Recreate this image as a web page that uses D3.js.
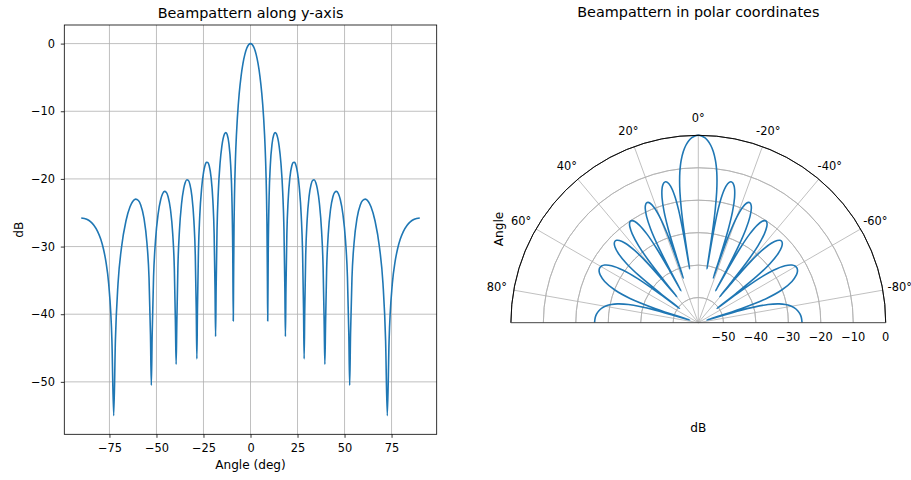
<!DOCTYPE html>
<html>
<head>
<meta charset="utf-8">
<script src="https://cdn.jsdelivr.net/npm/d3@7"></script>
<style>
  html, body { margin: 0; padding: 0; background: #fff; }
  svg { display: block; }
  text { font-family: "DejaVu Sans", sans-serif; fill: #000; }
</style>
</head>
<body>
<svg id="chart" width="911" height="480"></svg>
<script>
// ---------- data ----------
const angleDeg = [
  -90, -87.075, -85.077, -83.279, -81.246, -79.602, -78.182, -76.913, -75.389, -73.679,
  -72.733,
  -71.834, -70.424, -68.600, -66.226, -64.056, -62.633, -61.087, -59.612, -58.373, -56.674, -55.050, -53.950, -53.183,
  -52.729,
  -52.279, -51.540, -50.525, -49.112, -47.737, -46.797, -45.741, -44.706, -43.814, -42.564, -41.337, -40.493, -39.896,
  -39.540,
  -39.186, -38.600, -37.788, -36.643, -35.515, -34.735, -33.851, -32.978, -32.220, -31.148, -30.089, -29.354, -28.832,
  -28.520,
  -28.209, -27.693, -26.974, -25.956, -24.946, -24.244, -23.446, -22.653, -21.963, -20.984, -20.010, -19.332, -18.850,
  -18.561,
  -18.272, -17.793, -17.124, -16.172, -15.225, -14.564, -13.812, -13.062, -12.407, -11.475, -10.546, -9.898, -9.435,
  -9.158,
  -9.0, -8.75, -8.5, -8, -7.5, -7, -6.5, -6, -5, -4, -3, -2, -1,
  0,
  1, 2, 3, 4, 5, 6, 6.5, 7, 7.5, 8, 8.5, 8.75, 9.0,
  9.158,
  9.435, 9.898, 10.546, 11.475, 12.407, 13.062, 13.812, 14.564, 15.225, 16.172, 17.124, 17.793, 18.272,
  18.561,
  18.850, 19.332, 20.010, 20.984, 21.963, 22.653, 23.446, 24.244, 24.946, 25.956, 26.974, 27.693, 28.209,
  28.520,
  28.832, 29.354, 30.089, 31.148, 32.220, 32.978, 33.851, 34.735, 35.515, 36.643, 37.788, 38.600, 39.186,
  39.540,
  39.896, 40.493, 41.337, 42.564, 43.814, 44.706, 45.741, 46.797, 47.737, 49.112, 50.525, 51.540, 52.279,
  52.729,
  53.183, 53.950, 55.050, 56.674, 58.373, 59.612, 61.087, 62.633, 64.056, 66.226, 68.600, 70.424, 71.834,
  72.733,
  73.679, 75.389, 76.913, 78.182, 79.602, 81.246, 83.279, 85.077, 87.075, 90
];
const beamDb = [
  -25.773, -25.954, -26.312, -26.846, -27.787, -28.935, -30.356, -32.157, -35.537, -43.943,
  -55.0,
  -43.901, -35.424, -30.144, -26.216, -24.125, -23.340, -22.991, -23.194, -23.851, -25.760, -29.504, -34.656, -43.040,
  -50.5,
  -42.972, -34.473, -29.162, -25.189, -23.052, -22.233, -21.846, -22.009, -22.631, -24.488, -28.179, -33.293, -41.650,
  -47.4,
  -41.547, -33.020, -27.667, -23.634, -21.434, -20.570, -20.129, -20.237, -20.809, -22.592, -26.206, -31.264, -39.580,
  -46.6,
  -39.427, -30.856, -25.440, -21.313, -19.013, -18.077, -17.550, -17.567, -18.056, -19.712, -23.191, -28.148, -36.388,
  -43.3,
  -36.141, -27.487, -21.951, -17.642, -15.142, -14.053, -13.339, -13.152, -13.448, -14.804, -17.940, -22.630, -30.666,
  -41.0,
  -35.136, -26.680, -22.320, -17.041, -13.608, -11.053, -9.029, -7.366, -4.793, -2.932, -1.598, -0.696, -0.172,
  0,
  -0.172, -0.696, -1.598, -2.932, -4.793, -7.366, -9.029, -11.053, -13.608, -17.041, -22.320, -26.680, -35.136,
  -41.0,
  -30.666, -22.630, -17.940, -14.804, -13.448, -13.152, -13.339, -14.053, -15.142, -17.642, -21.951, -27.487, -36.141,
  -43.3,
  -36.388, -28.148, -23.191, -19.712, -18.056, -17.567, -17.550, -18.077, -19.013, -21.313, -25.440, -30.856, -39.427,
  -46.6,
  -39.580, -31.264, -26.206, -22.592, -20.809, -20.237, -20.129, -20.570, -21.434, -23.634, -27.667, -33.020, -41.547,
  -47.4,
  -41.650, -33.293, -28.179, -24.488, -22.631, -22.009, -21.846, -22.233, -23.052, -25.189, -29.162, -34.473, -42.972,
  -50.5,
  -43.040, -34.656, -29.504, -25.760, -23.851, -23.194, -22.991, -23.340, -24.125, -26.216, -30.144, -35.424, -43.901,
  -55.0,
  -43.943, -35.537, -32.157, -30.356, -28.935, -27.787, -26.846, -26.312, -25.954, -25.773
];
const xTicks = [-75, -50, -25, 0, 25, 50, 75];
const yTicks = [-50, -40, -30, -20, -10, 0];
const thetaTicks = [-80, -60, -40, -20, 0, 20, 40, 60, 80];
const rTicks = [-50, -40, -30, -20, -10, 0];

const xDomain = [-99, 99];
const yDomain = [-57.75, 2.75];
const rDomain = [-57.75, 0];

// ---------- drawing ----------
const svg = d3.select("#chart");
const LINE = "#1f77b4", GRID = "#b0b0b0";
const TICK_FS = 11.4, LABEL_FS = 12.1, TITLE_FS = 14.4;
const pts = angleDeg.map((a, i) => ({a, v: beamDb[i]}));

// ===== Left cartesian plot =====
const L = {x0: 64.3, x1: 436.7, y0: 25, y1: 434.3};
const x = d3.scaleLinear().domain(xDomain).range([L.x0, L.x1]);
const y = d3.scaleLinear().domain(yDomain).range([L.y1, L.y0]);
const gL = svg.append("g");

// grid
gL.append("g").selectAll("line").data(xTicks).join("line")
  .attr("x1", d => x(d)).attr("x2", d => x(d)).attr("y1", L.y0).attr("y2", L.y1)
  .attr("stroke", GRID).attr("stroke-width", 0.8);
gL.append("g").selectAll("line").data(yTicks).join("line")
  .attr("x1", L.x0).attr("x2", L.x1).attr("y1", d => y(d)).attr("y2", d => y(d))
  .attr("stroke", GRID).attr("stroke-width", 0.8);

// clip
svg.append("clipPath").attr("id", "clipL").append("rect")
  .attr("x", L.x0).attr("y", L.y0).attr("width", L.x1 - L.x0).attr("height", L.y1 - L.y0);

const lineL = d3.line().x(d => x(d.a)).y(d => y(d.v)).curve(d3.curveMonotoneX);
gL.append("path").datum(pts).attr("d", lineL)
  .attr("fill", "none").attr("stroke", LINE).attr("stroke-width", 1.6)
  .attr("stroke-linejoin", "round").attr("clip-path", "url(#clipL)");

// axes
const fmt = d3.format("d");
const xAxis = d3.axisBottom(x).tickValues(xTicks).tickSize(3.5).tickPadding(6.3).tickFormat(fmt);
const yAxis = d3.axisLeft(y).tickValues(yTicks).tickSize(3.5).tickPadding(5.8).tickFormat(fmt);
const gx = gL.append("g").attr("transform", `translate(0,${L.y1})`).call(xAxis);
const gy = gL.append("g").attr("transform", `translate(${L.x0},0)`).call(yAxis);
[gx, gy].forEach(g => {
  g.select(".domain").remove();
  g.selectAll(".tick line").attr("stroke", "#000").attr("stroke-width", 0.8);
  g.selectAll(".tick text").attr("font-size", TICK_FS).attr("font-family", "DejaVu Sans").attr("fill", "#000");
});
gL.append("rect").attr("x", L.x0).attr("y", L.y0).attr("width", L.x1 - L.x0).attr("height", L.y1 - L.y0)
  .attr("fill", "none").attr("stroke", "#000").attr("stroke-width", 0.8);

gL.append("text").attr("x", (L.x0 + L.x1) / 2).attr("y", 17.5).attr("text-anchor", "middle")
  .attr("font-size", TITLE_FS).text("Beampattern along y-axis");
gL.append("text").attr("x", (L.x0 + L.x1) / 2).attr("y", 469).attr("text-anchor", "middle")
  .attr("font-size", LABEL_FS).text("Angle (deg)");
gL.append("text").attr("transform", `translate(22.7,${(L.y0 + L.y1) / 2}) rotate(-90)`)
  .attr("text-anchor", "middle").attr("font-size", LABEL_FS).text("dB");

// ===== Right polar plot =====
const P = {cx: 698.3, cy: 322.7, R: 187.4};
const r = d3.scaleLinear().domain(rDomain).range([0, P.R]);
const gP = svg.append("g").attr("transform", `translate(${P.cx},${P.cy})`);
const toRad = d => d * Math.PI / 180;

// radial circles (half arcs)
const arc = d3.arc().startAngle(-Math.PI / 2).endAngle(Math.PI / 2);
gP.append("g").selectAll("path").data(rTicks.filter(t => t > rDomain[0] && t < rDomain[1])).join("path")
  .attr("d", d => arc({innerRadius: r(d), outerRadius: r(d)}))
  .attr("fill", "none").attr("stroke", GRID).attr("stroke-width", 0.8);
// angular lines
gP.append("g").selectAll("line").data(thetaTicks).join("line")
  .attr("x1", 0).attr("y1", 0)
  .attr("x2", d => -P.R * Math.sin(toRad(d))).attr("y2", d => -P.R * Math.cos(toRad(d)))
  .attr("stroke", GRID).attr("stroke-width", 0.8);

// pattern curve
const lineP = d3.lineRadial()
  .angle(d => -toRad(d.a))
  .radius(d => r(Math.max(rDomain[0], Math.min(rDomain[1], d.v))))
  .curve(d3.curveCatmullRom.alpha(0.5));
gP.append("path").datum(pts).attr("d", lineP)
  .attr("fill", "none").attr("stroke", LINE).attr("stroke-width", 1.6)
  .attr("stroke-linejoin", "round");

// spines
gP.append("path").attr("d", arc({innerRadius: P.R, outerRadius: P.R}))
  .attr("fill", "none").attr("stroke", "#000").attr("stroke-width", 0.8);
gP.append("line").attr("x1", -P.R).attr("x2", P.R).attr("y1", 0).attr("y2", 0)
  .attr("stroke", "#444").attr("stroke-width", 1);

// theta labels
const labR = 204.5;
gP.append("g").selectAll("text").data(thetaTicks).join("text")
  .attr("x", d => -labR * Math.sin(toRad(d)))
  .attr("y", d => -labR * Math.cos(toRad(d)) + 0.365 * TICK_FS)
  .attr("text-anchor", "middle").attr("font-size", TICK_FS)
  .text(d => `${d}°`);
// r labels
gP.append("g").selectAll("text").data(rTicks).join("text")
  .attr("x", d => r(d)).attr("y", 341.3 - P.cy)
  .attr("text-anchor", "middle").attr("font-size", TICK_FS)
  .text(d => fmt(d));

svg.append("text").attr("x", P.cx).attr("y", 16.5).attr("text-anchor", "middle")
  .attr("font-size", TITLE_FS).text("Beampattern in polar coordinates");
svg.append("text").attr("x", P.cx).attr("y", 431.7).attr("text-anchor", "middle")
  .attr("font-size", LABEL_FS).text("dB");
svg.append("text").attr("transform", `translate(503.1,${P.cy - P.R / 2}) rotate(-90)`)
  .attr("text-anchor", "middle").attr("font-size", LABEL_FS).text("Angle");
</script>
</body>
</html>
